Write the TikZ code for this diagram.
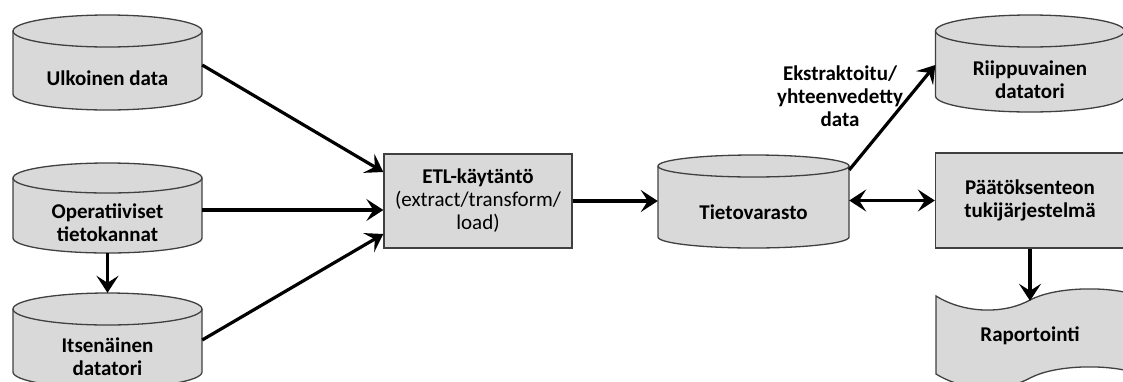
\documentclass[tikz,border=0pt]{standalone}
\usepackage{fontspec}
\setmainfont{Carlito}
\usetikzlibrary{positioning,calc,arrows.meta}
\definecolor{boxgray}{HTML}{D9D9D9}
\definecolor{edgegray}{HTML}{404040}

\begin{document}
\begin{tikzpicture}[x=1pt,y=-1pt,
    shapeline/.style={draw=edgegray,fill=boxgray,line width=1.3pt},
    lbl/.style={align=center,inner sep=0pt,font=\fontsize{21}{23}\selectfont\bfseries},
    proc/.style={shapeline,lbl,rectangle,minimum width=188pt,minimum height=94pt},
    >={Stealth[length=17pt,width=22pt,inset=7pt]},
    flow/.style={->,line width=3.2pt}]

\useasboundingbox (0,0) rectangle (1123,381);
\clip (0,0) rectangle (1123,381);

% Databases: name / centre x / top / bottom / cap radius / width / text
\foreach \nm/\cx/\yt/\yb/\ry/\w/\txt in {
    ulk/107.5/15/110/16/189/{Ulkoinen data},
    ops/107.5/163/253/15/189/{Operatiiviset\\tietokannat},
    its/107.5/293/388/16/189/{Itsenäinen\\datatori},
    tv/753.5/155/248/11/191/{Tietovarasto},
    rii/1030/15/112/16/189/{Riippuvainen\\datatori}} {
  \filldraw[shapeline] (\cx-\w/2,\yt+\ry) -- (\cx-\w/2,\yb-\ry)
      arc[start angle=180,end angle=360,x radius={\w/2*1pt},y radius={\ry*1pt}]
      -- (\cx+\w/2,\yt+\ry)
      arc[start angle=0,end angle=180,x radius={\w/2*1pt},y radius={\ry*1pt}] -- cycle;
  \draw[shapeline,fill=none] (\cx-\w/2,\yt+\ry)
      arc[start angle=180,end angle=360,x radius={\w/2*1pt},y radius={\ry*1pt}];
  \node[lbl,minimum width=\w*1pt,minimum height={(\yb-\yt-2*\ry)*1pt}]
      (\nm) at (\cx,{(\yt+2*\ry+\yb)/2}) {\txt};
}

% Processes
\node[proc] (etl) at (478,201) {ETL-käytäntö\\\mdseries(extract/transform/\\\mdseries load)};
\node[proc,minimum width=189pt,minimum height=95pt] (dss) at (1030,200.5) {Päätöksenteon\\tukijärjestelmä};

% Report (punched tape)
\filldraw[shapeline] (936,296) .. controls (965,314) and (1005,314) .. (1030,300)
    .. controls (1055,287) and (1100,287) .. (1124,292) -- (1124,370)
    .. controls (1100,365) and (1055,365) .. (1030,378)
    .. controls (1005,392) and (965,392) .. (936,374) -- cycle;
\node[lbl,minimum width=188pt,minimum height=70pt] (rap) at (1030,336) {Raportointi};

\node[lbl] (ext) at (840,96) {Ekstraktoitu/\\yhteenvedetty\\data};

% Flows
\draw[flow] ([yshift=13.5pt]ulk.east) -- ([yshift=29pt]etl.west);
\draw[flow] ([yshift=13pt]ops.east) -- ([yshift=13pt]ops.east -| etl.west);
\draw[flow] ([yshift=16.5pt]its.east) -- ([yshift=-33pt]etl.west);
\draw[flow] (ops.south) -- ([yshift=32pt]its.north);
\draw[flow] (etl.east) -- (etl.east -| tv.west);
\draw[flow] ([yshift=42.5pt]tv.east) -- ([yshift=14.5pt]rii.west);
\draw[flow,<->] (tv.east |- dss.west) -- (dss.west);
\draw[flow] (dss.south) -- (rap.north);

\end{tikzpicture}
\end{document}
